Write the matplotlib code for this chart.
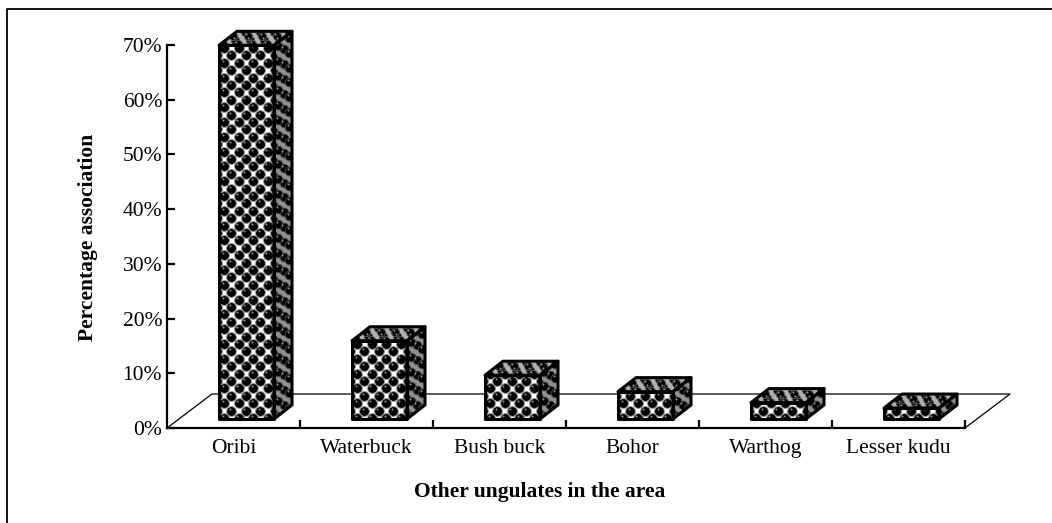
import numpy as np
import matplotlib
matplotlib.use("Agg")
import matplotlib.pyplot as plt
from matplotlib.lines import Line2D
from matplotlib.patches import Polygon

categories = ["Oribi", "Waterbuck", "Bush buck", "Bohor", "Warthog", "Lesser kudu"]
percent = [68.3, 14.3, 8.0, 5.0, 3.0, 2.0]
y_ticks = [0, 10, 20, 30, 40, 50, 60, 70]

W, H = 1052, 523
plt.rcParams["font.family"] = ["Liberation Serif", "DejaVu Serif"]

fig = plt.figure(figsize=(W / 100, H / 100), dpi=100)
# only the top and left of the frame are in the picture
fig.add_artist(Line2D([7 / W, 7 / W, 1], [0, 1 - 8.5 / H, 1 - 8.5 / H], color="black", lw=1.3))

# axes box in pixels
left, right, top, base = 167, 965, 45, 428
ax = fig.add_axes([left / W, 1 - base / H, (right - left) / W, (base - top) / H])
ax.set_xlim(0, 6)
ax.set_ylim(0, 70)
ax.patch.set_visible(False)
for s in ["top", "right"]:
    ax.spines[s].set_visible(False)
for s in ["left", "bottom"]:
    ax.spines[s].set_linewidth(1.6)

px = 6 / (right - left)
py = 70 / (base - top)

# 3d floor
floor_dx, floor_dy = 45 * px, 34 * py
ax.plot([0, floor_dx, 6 + floor_dx, 6], [0, floor_dy, floor_dy, 0], color="black", lw=0.9,
        clip_on=False, zorder=1)


def pattern(poly, origin, u, v, bg, ring, size, zorder):
    # staggered balls in face coordinates, u and v are the lattice steps
    patch = Polygon(poly, closed=True, fc=bg, ec="none", zorder=zorder, clip_on=False)
    ax.add_patch(patch)
    pts = []
    for i in range(-3, 12):
        for j in range(-3, 110):
            a = i + (0.5 if j % 2 else 0)
            pts.append((origin[0] + a * u[0] + j * v[0], origin[1] + a * u[1] + j * v[1]))
    pts = np.array(pts)
    outer = ax.scatter(pts[:, 0], pts[:, 1], s=size, c="black", edgecolors=ring, linewidths=0.7,
                       zorder=zorder + 0.1)
    outer.set_clip_path(patch)
    shine = ax.scatter(pts[:, 0] - 1.5 * px, pts[:, 1] + 2 * py, s=2, c="#999999", linewidths=0,
                       zorder=zorder + 0.2)
    shine.set_clip_path(patch)


bar_off, bar_w = 52 * px, 55 * px
lift = 9 * py
depth_x, depth_y = 18 * px, 14 * py

for i, val in enumerate(percent):
    x0 = i + bar_off
    x1 = x0 + bar_w
    y0 = lift
    y1 = lift + val
    z = 3 + i
    front = [(x0, y0), (x1, y0), (x1, y1), (x0, y1)]
    side = [(x1, y0), (x1 + depth_x, y0 + depth_y), (x1 + depth_x, y1 + depth_y), (x1, y1)]
    lid = [(x0, y1), (x1, y1), (x1 + depth_x, y1 + depth_y), (x0 + depth_x, y1 + depth_y)]

    pattern(front, (x0 + 5 * px, y0 + 1 * py), (14.5 * px, 0), (0, 7.4 * py), "white", "#9a9a9a", 50, z)
    pattern(side, (x1 + 4 * px, y0 + 3 * py), (11 * px, 8 * py), (0, 7.4 * py), "#909090", "#444444", 38, z)
    pattern(lid, (x0 + 4 * px, y1 + 1 * py), (14.5 * px, 0), (5 * px, 4 * py), "#b0b0b0", "#555555", 34, z)
    for face in (front, side, lid):
        ax.add_patch(Polygon(face, closed=True, fill=False, ec="black", lw=2.2, joinstyle="round",
                             zorder=z + 0.5, clip_on=False))

ax.set_yticks(y_ticks)
ax.set_yticklabels(["%d%%" % t for t in y_ticks], fontsize=15.5)
ax.set_xticks(range(1, 7))
ax.set_xticklabels([])
ax.tick_params(axis="y", direction="in", length=5.5, width=1.6, pad=3.5)
ax.tick_params(axis="x", direction="in", length=6, width=1.6)
for i, name in enumerate(categories):
    ax.text(i + 0.5, -3.8, name, ha="center", va="center", fontsize=15.5)

ax.text(2.8, -11.7, "Other ungulates in the area", ha="center", va="center", fontsize=15.5, fontweight="bold")
fig.text(88 / W, 1 - 237 / H, "Percentage association", rotation=90, ha="center", va="center",
         fontsize=15.5, fontweight="bold")

fig.savefig("out.png", dpi=100)
